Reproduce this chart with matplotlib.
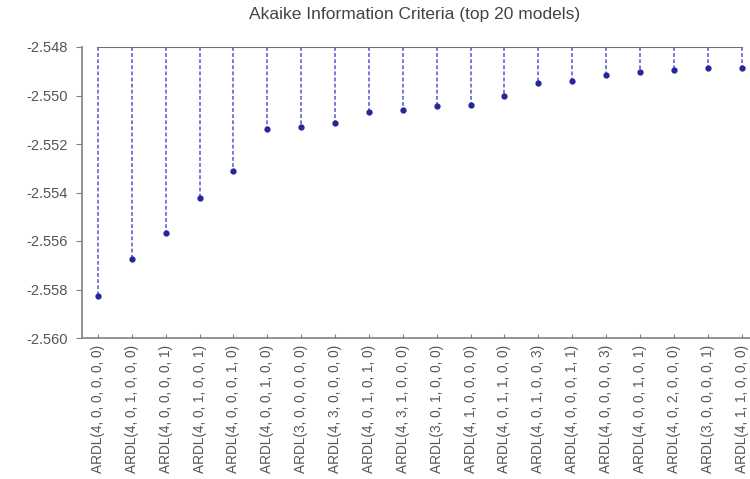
import numpy as np
import matplotlib
matplotlib.use('Agg')
import matplotlib.pyplot as plt

plt.rcParams['font.family'] = ['Liberation Sans', 'DejaVu Sans']

# 模型名称 (前20个模型)
models = ['ARDL(4, 0, 0, 0, 0, 0)', 'ARDL(4, 0, 1, 0, 0, 0)', 'ARDL(4, 0, 0, 0, 0, 1)',
          'ARDL(4, 0, 1, 0, 0, 1)', 'ARDL(4, 0, 0, 0, 1, 0)', 'ARDL(4, 0, 0, 1, 0, 0)',
          'ARDL(3, 0, 0, 0, 0, 0)', 'ARDL(4, 3, 0, 0, 0, 0)', 'ARDL(4, 0, 1, 0, 1, 0)',
          'ARDL(4, 3, 1, 0, 0, 0)', 'ARDL(3, 0, 1, 0, 0, 0)', 'ARDL(4, 1, 0, 0, 0, 0)',
          'ARDL(4, 0, 1, 1, 0, 0)', 'ARDL(4, 0, 1, 0, 0, 3)', 'ARDL(4, 0, 0, 0, 1, 1)',
          'ARDL(4, 0, 0, 0, 0, 3)', 'ARDL(4, 0, 0, 1, 0, 1)', 'ARDL(4, 0, 2, 0, 0, 0)',
          'ARDL(3, 0, 0, 0, 0, 1)', 'ARDL(4, 1, 1, 0, 0, 0)']
# AIC 值
aic = [-2.55827, -2.55676, -2.55566, -2.55421, -2.55311, -2.55138, -2.55129,
       -2.55115, -2.55069, -2.55060, -2.55043, -2.55039, -2.55002, -2.54948,
       -2.54942, -2.54914, -2.54902, -2.54896, -2.54887, -2.54885]
yticks = [-2.560, -2.558, -2.556, -2.554, -2.552, -2.550, -2.548]

fig = plt.figure(figsize=(7.5, 4.79), dpi=100)
ax = fig.add_axes([82 / 750, 1 - 338 / 479, 668 / 750, 291 / 479])

x = np.arange(1, len(aic) + 1)
markerline, stemlines, baseline = ax.stem(x, aic, bottom=-2.548)
plt.setp(stemlines, color='#5555cc', linestyle=(0, (2.5, 1.5)), linewidth=1.1)
plt.setp(markerline, color='#26269a', marker='o', markersize=3.5)
plt.setp(baseline, color='#707070', linewidth=1.5)

ax.set_xlim(0.53, 20.25)
ax.set_ylim(-2.560, -2.548)
ax.set_yticks(yticks)
ax.set_yticklabels(['%.3f' % v for v in yticks])
ax.set_xticks(x)
ax.set_xticklabels(models, rotation=90)

for s in ['left', 'bottom']:
    ax.spines[s].set_color('#808080')
    ax.spines[s].set_linewidth(1.2)
ax.spines['top'].set_visible(False)
ax.spines['right'].set_visible(False)

ax.tick_params(axis='y', direction='out', length=4, color='#808080',
               labelcolor='#555555', labelsize=10.5, pad=6)
ax.tick_params(axis='x', direction='in', length=3, color='#808080',
               labelcolor='#555555', labelsize=9.8, pad=5)

fig.text(415 / 750, 1 - 14 / 479, 'Akaike Information Criteria (top 20 models)',
         ha='center', va='center', fontsize=12.5, color='#444444')

fig.savefig('out.png', dpi=100)
